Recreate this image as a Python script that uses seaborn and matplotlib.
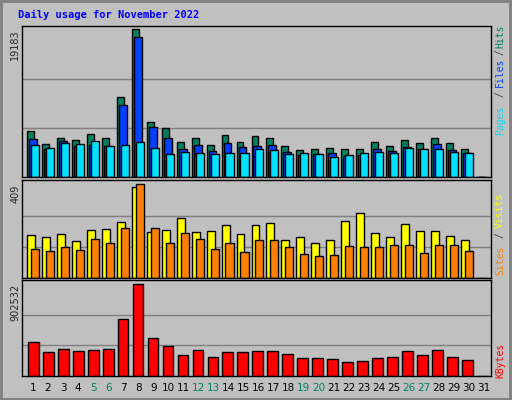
import matplotlib
matplotlib.use("Agg")
import matplotlib.pyplot as plt
import seaborn as sns
import numpy as np

days = list(range(1, 32))
hits = [6033, 4340, 5121, 4861, 5642, 5121, 10329, 19183, 7204, 6423, 4600, 5121, 4210, 5512, 4600,
        5382, 5121, 4080, 3559, 3689, 3819, 3689, 3689, 4600, 4080, 4861, 4470, 5121, 4470, 3689, 0]
files = [4991, 3689, 4731, 4080, 4210, 4080, 9288, 18141, 6553, 5121, 3689, 4210, 3429, 4470, 3949,
         4080, 4210, 3298, 2908, 3038, 3168, 2778, 2908, 3689, 3429, 3949, 3689, 4340, 3559, 3168, 0]
pages = [4210, 3819, 4470, 4340, 4731, 4080, 4210, 4600, 3819, 3038, 3298, 3168, 3038, 3168, 3168,
         3689, 3559, 3038, 3168, 3038, 2647, 2908, 3168, 3298, 3168, 3819, 3689, 3689, 3298, 3168, 0]
sites = [188, 179, 192, 161, 210, 214, 245, 396, 201, 210, 263, 201, 205, 232, 192,
         232, 241, 165, 179, 152, 165, 250, 285, 196, 179, 236, 205, 205, 183, 165, 0]
visits = [126, 117, 134, 121, 170, 152, 219, 409, 219, 152, 196, 170, 126, 152, 112,
          165, 165, 134, 103, 95, 99, 139, 134, 134, 143, 143, 108, 143, 143, 117, 0]
kbytes = [339282, 240462, 270108, 250344, 260226, 270108, 556686, 902532, 378810, 299754, 210816,
          260226, 191052, 240462, 240462, 250344, 250344, 220698, 181170, 181170, 171288, 141642,
          151524, 181170, 191052, 250344, 210816, 260226, 191052, 161406, 0]
weekend = [5, 6, 12, 13, 19, 20, 26, 27]

BG = "#c0c0c0"
sns.set_style("white")
plt.rcParams["font.family"] = ["DejaVu Sans Mono"]

W, H = 512, 400
fig = plt.figure(figsize=(W / 100, H / 100), dpi=100, facecolor=BG)

def px_axes(x0, y0, x1, y1):
    return fig.add_axes([x0 / W, 1 - y1 / H, (x1 - x0) / W, (y1 - y0) / H])

def style(ax, top, maxval, label):
    ax.set_facecolor(BG)
    ax.set_xlim(0.135, 31.47)
    ax.set_ylim(0, top)
    for v in (maxval / 3, maxval * 2 / 3):
        ax.axhline(v, color="#808080", lw=1, zorder=0)
    ax.set_xticks([])
    ax.set_yticks([])
    for s in ax.spines.values():
        s.set_color("black")
        s.set_linewidth(1)
    ax.text(-0.014, 1 - (top - maxval) / top, label, transform=ax.transAxes, rotation=90,
            ha="center", va="top", fontsize=7, family="DejaVu Sans")

d = np.array(days, dtype=float)
kw = dict(edgecolor="black", linewidth=1, align="edge")

ax1 = px_axes(22, 26, 491, 177)
style(ax1, 19610, 19183, "19183")
ax1.bar(d - 0.53, hits, 0.46, color="#008060", **kw)
ax1.bar(d - 0.40, files, 0.53, color="#0040ff", **kw)
ax1.bar(d - 0.27, pages, 0.54, color="#00e0ff", **kw)

ax2 = px_axes(22, 180, 491, 278)
style(ax2, 428, 409, "409")
ax2.bar(d - 0.53, sites, 0.53, color="#ffff00", **kw)
ax2.bar(d - 0.27, visits, 0.54, color="#ff8000", **kw)

ax3 = px_axes(22, 280, 491, 376)
style(ax3, 945000, 902532, "902532")
ax3.bar(d - 0.47, kbytes, 0.72, color="#ff0000", **kw)

for day in days:
    x = 33 + 15.03 * (day - 1)
    fig.text(x / W, 1 - 388 / H, str(day), ha="center", va="center", fontsize=7.5,
             family="DejaVu Sans", color="#008060" if day in weekend else "black")

def side(text, y, color):
    fig.text(500 / W, 1 - y / H, text, rotation=90, ha="center", va="center",
             fontsize=7, color=color)

side("Hits", 36, "#008060")
side("/", 52, "#404040")
side("Files", 72, "#0040ff")
side("/", 94, "#404040")
side("Pages", 120, "#00e0ff")
side("Visits", 210, "#ffff00")
side("/", 235, "#404040")
side("Sites", 260, "#ff8000")
side("KBytes", 360, "#ff0000")

fig.text(18 / W, 1 - 15 / H, "Daily usage for November 2022", ha="left", va="center",
         fontsize=7.5, fontweight="bold", color="#0000ff")

# outer 3D-ish border
fig.patches.append(plt.Rectangle((0.002, 0.003), 0.994, 0.994, transform=fig.transFigure,
                                 fill=False, edgecolor="#808080", linewidth=2))

fig.savefig("out.png", dpi=100, facecolor=BG)
